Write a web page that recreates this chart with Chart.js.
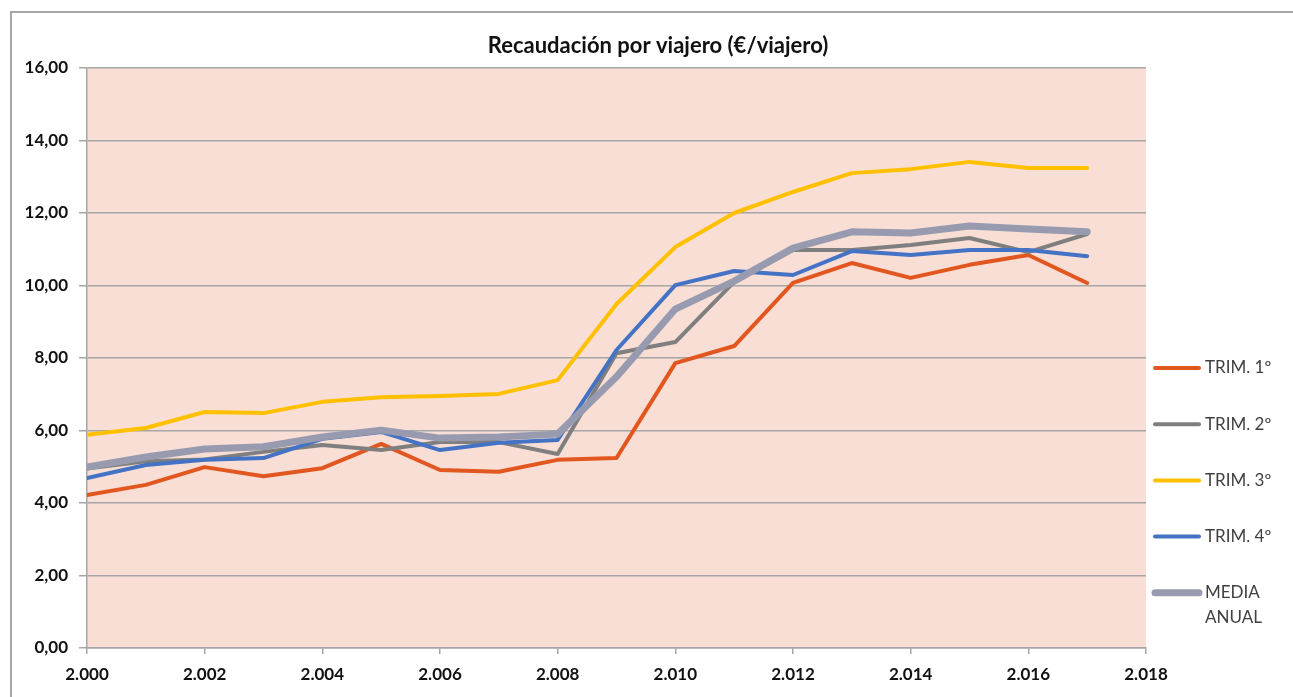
<!DOCTYPE html>
<html>
<head>
<meta charset="utf-8">
<script src="https://cdn.jsdelivr.net/npm/chart.js@4.4.0/dist/chart.umd.min.js"></script>
<style>
  html, body { margin: 0; padding: 0; background: #fff; }
  #wrap { width: 1293px; height: 697px; position: relative; }
</style>
</head>
<body>
<div id="wrap"><canvas id="chart" width="1293" height="697"></canvas></div>
<script>
// data
const years = [2000, 2001, 2002, 2003, 2004, 2005, 2006, 2007, 2008, 2009, 2010, 2011, 2012, 2013, 2014, 2015, 2016, 2017];
const trim1 = [4.22, 4.50, 4.99, 4.74, 4.96, 5.63, 4.91, 4.86, 5.19, 5.24, 7.86, 8.33, 10.07, 10.62, 10.21, 10.57, 10.84, 10.07];
const trim2 = [4.95, 5.15, 5.20, 5.41, 5.60, 5.46, 5.68, 5.68, 5.35, 8.13, 8.44, 10.10, 10.98, 10.98, 11.12, 11.31, 10.92, 11.42];
const trim3 = [5.88, 6.07, 6.51, 6.48, 6.79, 6.92, 6.95, 7.01, 7.39, 9.49, 11.06, 12.00, 12.58, 13.10, 13.21, 13.41, 13.24, 13.24];
const trim4 = [4.69, 5.05, 5.19, 5.24, 5.77, 5.96, 5.46, 5.66, 5.74, 8.22, 10.01, 10.40, 10.29, 10.95, 10.84, 10.98, 10.98, 10.81];
const media = [4.99, 5.27, 5.49, 5.55, 5.82, 6.01, 5.79, 5.82, 5.90, 7.48, 9.35, 10.12, 11.03, 11.48, 11.45, 11.64, 11.56, 11.48];
const seriesNames = ['TRIM. 1º', 'TRIM. 2º', 'TRIM. 3º', 'TRIM. 4º', 'MEDIA ANUAL'];
const yTicks = [0, 2, 4, 6, 8, 10, 12, 14, 16];
const xTicks = [2000, 2002, 2004, 2006, 2008, 2010, 2012, 2014, 2016, 2018];
const title = 'Recaudación por viajero (€/viajero)';

const FONT = 'Lato, "Open Sans", sans-serif';
const colors = ['#E2561F', '#7F7F7F', '#FFC000', '#4472C4', '#989BB0'];
const widths = [4, 4, 4, 4, 7];
const allSeries = [trim1, trim2, trim3, trim4, media];

const toPoints = arr => arr.map((v, i) => ({ x: years[i], y: v }));

const datasets = allSeries.map((s, i) => ({
  label: seriesNames[i],
  data: toPoints(s),
  borderColor: colors[i],
  backgroundColor: colors[i],
  borderWidth: widths[i],
  pointRadius: 0,
  tension: 0,
  order: allSeries.length - i,   // later series on top, like Excel
  borderCapStyle: 'round',
  borderJoinStyle: 'round'
}));

const decor = {
  id: 'decor',
  beforeDraw(chart) {
    const ctx = chart.ctx, a = chart.chartArea;
    ctx.save();
    ctx.fillStyle = '#fff';
    ctx.fillRect(0, 0, chart.width, chart.height);
    // outer frame
    ctx.strokeStyle = '#A6A6A6';
    ctx.lineWidth = 2;
    ctx.strokeRect(11, 12, chart.width + 20, chart.height + 20);
    // plot background
    ctx.fillStyle = '#F8DED4';
    ctx.fillRect(a.left, a.top, a.right - a.left, a.bottom - a.top);
    ctx.restore();
  },
  afterDraw(chart) {
    const ctx = chart.ctx;
    ctx.save();
    // title
    ctx.fillStyle = '#111';
    ctx.font = 'bold 22px ' + FONT;
    ctx.textAlign = 'center';
    ctx.textBaseline = 'middle';
    ctx.fillText(title, 658, 46);
    // legend
    ctx.font = '17px ' + FONT;
    ctx.textAlign = 'left';
    chart.data.datasets.forEach((ds, i) => {
      const y = 368 + i * 56.2;
      ctx.strokeStyle = ds.borderColor;
      ctx.lineWidth = ds.borderWidth;
      ctx.lineCap = 'round';
      ctx.beginPath();
      ctx.moveTo(1155, y);
      ctx.lineTo(1199, y);
      ctx.stroke();
      ctx.fillStyle = '#404040';
      const words = ds.label.split(' ');
      const lines = ctx.measureText(ds.label).width > 80 ? words : [ds.label];
      lines.forEach((t, j) => ctx.fillText(t, 1205, y + j * 25));
    });
    ctx.restore();
  }
};

new Chart(document.getElementById('chart'), {
  type: 'line',
  data: { datasets: datasets },
  options: {
    responsive: false,
    animation: false,
    layout: { padding: { top: 68, right: 147, left: 0, bottom: 0 } },
    plugins: {
      legend: { display: false },
      title: { display: false },
      tooltip: { enabled: false }
    },
    scales: {
      x: {
        type: 'linear',
        min: 2000,
        max: 2018,
        afterFit: s => { s.height = 49; },
        afterBuildTicks: s => { s.ticks = xTicks.map(v => ({ value: v })); },
        grid: { drawOnChartArea: false, drawTicks: true, tickLength: 6, color: '#A6A6A6', lineWidth: 1.5 },
        border: { display: true, color: '#A6A6A6', width: 1.5 },
        ticks: {
          padding: 10,
          color: '#111',
          font: { family: FONT, size: 17, weight: 'bold' },
          callback: v => Math.floor(v / 1000) + '.' + String(v % 1000).padStart(3, '0')
        }
      },
      y: {
        min: 0,
        max: 16,
        afterFit: s => { s.width = 87; },
        afterBuildTicks: s => { s.ticks = yTicks.map(v => ({ value: v })); },
        grid: { drawOnChartArea: true, drawTicks: true, tickLength: 8, color: '#A6A6A6', lineWidth: 1.5 },
        border: { display: true, color: '#A6A6A6', width: 1.5 },
        ticks: {
          padding: 11,
          color: '#111',
          font: { family: FONT, size: 17, weight: 'bold' },
          callback: v => v.toFixed(2).replace('.', ',')
        }
      }
    }
  },
  plugins: [decor]
});
</script>
</body>
</html>
